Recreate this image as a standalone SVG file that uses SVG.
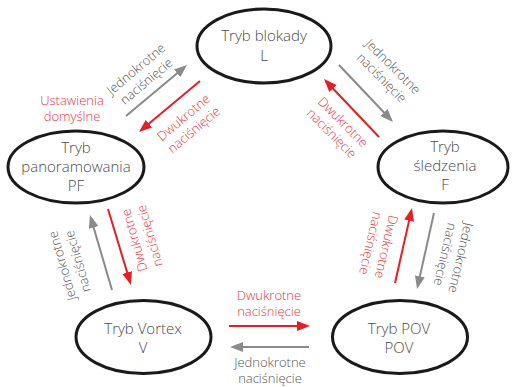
<svg xmlns="http://www.w3.org/2000/svg" width="512" height="387" viewBox="0 0 512 387">
<defs>
<style>
.node ellipse{fill:#fff;stroke:#1a1a1a;stroke-width:3}
.node text{font-family:"Open Sans","Liberation Sans",sans-serif;font-weight:300;font-size:15px;fill:#4a4a4a;text-anchor:middle}
.lbl{font-family:"Open Sans","Liberation Sans",sans-serif;font-weight:300;font-size:13px;text-anchor:middle}
.g{fill:#555}
.r{fill:#e53640}
.ag{stroke:#8a8a8a;stroke-width:2;fill:none;marker-end:url(#mg)}
.ar{stroke:#e31e24;stroke-width:2;fill:none;marker-end:url(#mr)}
</style>
<marker id="mg" markerUnits="userSpaceOnUse" markerWidth="14" markerHeight="11" refX="10" refY="5" orient="auto"><path d="M0,0 L13,5 L0,10 z" fill="#8a8a8a"/></marker>
<marker id="mr" markerUnits="userSpaceOnUse" markerWidth="14" markerHeight="11" refX="10" refY="5" orient="auto"><path d="M0,0 L13,5 L0,10 z" fill="#e31e24"/></marker>
</defs>
<rect width="512" height="387" fill="#fff"/>
<g id="connectors">
<line class="ag" x1="126" y1="116" x2="184.7" y2="66.9"/>
<line class="ar" x1="200" y1="81" x2="141.3" y2="130.1"/>
<line class="ag" x1="339" y1="65" x2="390.9" y2="119.8"/>
<line class="ar" x1="379" y1="137" x2="326.1" y2="81.2"/>
<line class="ag" x1="112" y1="290" x2="90.8" y2="217.9"/>
<line class="ar" x1="108" y1="209" x2="130.1" y2="282.1"/>
<line class="ar" x1="395" y1="283" x2="411.3" y2="210.9"/>
<line class="ag" x1="434" y1="213" x2="417.7" y2="286.1"/>
<line class="ar" x1="229" y1="326" x2="307" y2="326"/>
<line class="ag" x1="309" y1="347" x2="233" y2="347"/>
<g class="lbl">
<g transform="translate(141.5,75.5) rotate(-40)"><text class="g" y="-4">Jednokrotne</text><text class="g" y="12">naciśnięcie</text></g>
<g transform="translate(189,124) rotate(-40)"><text class="r" y="-4">Dwukrotne</text><text class="r" y="12">naciśnięcie</text></g>
<g transform="translate(387,72.5) rotate(45)"><text class="g" y="-4">Jednokrotne</text><text class="g" y="12">naciśnięcie</text></g>
<g transform="translate(337,128) rotate(45)"><text class="r" y="-4">Dwukrotne</text><text class="r" y="12">naciśnięcie</text></g>
<g transform="translate(70.5,263.5) rotate(-106)"><text class="g" y="-4">Jednokrotne</text><text class="g" y="12">naciśnięcie</text></g>
<g transform="translate(142.5,238) rotate(-106)"><text class="r" y="-4">Dwukrotne</text><text class="r" y="12">naciśnięcie</text></g>
<g transform="translate(378,245) rotate(103)"><text class="r" y="-4">Dwukrotne</text><text class="r" y="12">naciśnięcie</text></g>
<g transform="translate(452.5,256) rotate(103)"><text class="g" y="-4">Jednokrotne</text><text class="g" y="12">naciśnięcie</text></g>
<text class="r" x="269" y="300">Dwukrotne</text><text class="r" x="269" y="316">naciśnięcie</text>
<text class="g" x="270" y="367">Jednokrotne</text><text class="g" x="270" y="383">naciśnięcie</text>
<text class="r" x="72" y="105">Ustawienia</text><text class="r" x="72" y="121">domyślne</text>
</g>
</g>
<g id="node-L" class="node"><ellipse cx="264" cy="46" rx="67" ry="37"/><text x="264" y="41">Tryb blokady</text><text x="264" y="61">L</text></g>
<g id="node-PF" class="node"><ellipse cx="76" cy="167" rx="68" ry="36"/><text x="76" y="153">Tryb</text><text x="76" y="172">panoramowania</text><text x="76" y="191">PF</text></g>
<g id="node-F" class="node"><ellipse cx="443" cy="167" rx="65" ry="36"/><text x="445" y="152">Tryb</text><text x="445" y="171">śledzenia</text><text x="445" y="190">F</text></g>
<g id="node-V" class="node"><ellipse cx="143.5" cy="337" rx="67.5" ry="36.5"/><text x="143" y="334">Tryb Vortex</text><text x="143" y="353">V</text></g>
<g id="node-POV" class="node"><ellipse cx="400" cy="337" rx="67.5" ry="36.5"/><text x="399" y="334">Tryb POV</text><text x="399" y="353">POV</text></g>
</svg>
